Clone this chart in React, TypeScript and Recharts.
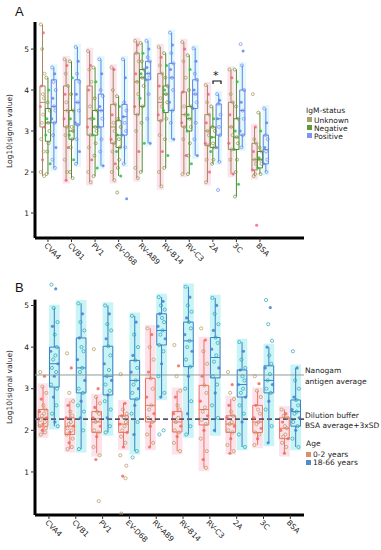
import React from "react";
import { ComposedChart, XAxis, YAxis, Scatter, ReferenceArea, ReferenceLine } from "recharts";

const categories = ["CVA4", "CVB1", "PV1", "EV-D68", "RV-A89", "RV-B14", "RV-C3", "2A", "3C", "BSA"];

// panel A boxes: [min, q1, median, q3, max]
const boxUnknown = [
  [1.9, 3.1, 3.7, 4.1, 5.6], [1.8, 3.1, 3.5, 4.1, 4.75], [1.75, 2.9, 3.3, 4.1, 4.95], [1.8, 2.7, 3.1, 3.65, 4.55],
  [1.85, 3.4, 4.2, 4.9, 5.2], [1.65, 3.25, 3.7, 4.4, 5.05], [1.95, 3.1, 3.4, 3.95, 5.17], [1.75, 2.65, 3.0, 3.4, 4.12],
  [1.95, 2.55, 3.1, 3.7, 4.5], [1.9, 2.05, 2.3, 2.7, 3.1],
];
const boxNegative = [
  [1.95, 2.75, 3.2, 3.55, 4.3], [1.85, 2.8, 3.0, 3.5, 4.7], [1.9, 2.9, 3.1, 3.5, 4.55], [1.9, 2.6, 2.9, 3.25, 3.85],
  [2.0, 3.6, 4.3, 4.5, 5.15], [2.1, 3.45, 3.9, 4.1, 4.9], [1.95, 3.0, 3.3, 3.6, 4.85], [2.2, 2.6, 2.85, 3.1, 3.6],
  [1.4, 2.55, 2.85, 3.3, 4.5], [1.95, 2.1, 2.3, 2.5, 3.45],
];
const boxPositive = [
  [2.1, 3.2, 3.6, 4.25, 4.55], [2.2, 3.15, 3.7, 4.25, 5.05], [2.15, 3.1, 3.5, 3.9, 4.75], [2.2, 2.9, 3.35, 3.65, 4.75],
  [2.7, 4.25, 4.4, 4.7, 5.2], [2.8, 3.5, 4.3, 4.65, 5.4], [2.4, 3.55, 3.9, 4.25, 5.02], [2.25, 2.9, 3.3, 3.66, 3.9],
  [2.6, 2.9, 3.5, 4.0, 4.6], [2.0, 2.2, 2.55, 2.9, 3.55],
];

const ptsUnknown = [
  [5.6, 5.4, 5.0, 4.4, 4.1, 3.9, 3.8, 3.6, 3.4, 3.2, 3.1, 2.8, 2.5, 2.3, 2.0, 1.9],
  [4.75, 4.6, 4.4, 4.1, 3.9, 3.7, 3.5, 3.3, 3.1, 2.9, 2.6, 2.3, 2.0, 1.8],
  [4.95, 4.6, 4.5, 4.2, 4.0, 3.6, 3.3, 3.1, 2.9, 2.6, 2.3, 2.0, 1.75],
  [4.55, 4.5, 4.0, 3.65, 3.4, 3.2, 3.0, 2.8, 2.7, 2.5, 2.2, 2.0, 1.8],
  [5.2, 5.1, 4.9, 4.7, 4.4, 4.2, 3.9, 3.6, 3.4, 3.0, 2.5, 2.1, 1.85],
  [5.05, 4.8, 4.6, 4.4, 4.1, 3.8, 3.6, 3.4, 3.25, 2.9, 2.5, 2.0, 1.65],
  [5.17, 5.0, 4.7, 4.3, 3.95, 3.6, 3.4, 3.2, 3.1, 2.8, 2.4, 1.95],
  [4.12, 3.9, 3.7, 3.4, 3.2, 3.0, 2.9, 2.7, 2.65, 2.3, 2.0, 1.75],
  [4.5, 4.3, 3.9, 3.7, 3.4, 3.1, 2.9, 2.7, 2.55, 2.3, 1.95],
  [3.9, 3.1, 2.8, 2.7, 2.5, 2.3, 2.2, 2.05, 1.95, 1.9, 0.7],
];
const ptsNegative = [
  [4.3, 4.0, 3.7, 3.5, 3.3, 3.2, 3.0, 2.9, 2.7, 2.5, 2.2, 1.95],
  [4.7, 4.3, 3.9, 3.5, 3.3, 3.1, 3.0, 2.9, 2.8, 2.6, 2.3, 2.0, 1.85],
  [4.55, 4.2, 3.8, 3.5, 3.3, 3.1, 3.0, 2.9, 2.7, 2.4, 2.1, 1.9],
  [3.85, 3.6, 3.3, 3.1, 2.9, 2.8, 2.6, 2.5, 2.3, 2.1, 1.9, 1.5],
  [5.15, 4.9, 4.7, 4.5, 4.4, 4.3, 4.1, 3.8, 3.6, 3.2, 2.7, 2.0],
  [4.9, 4.6, 4.3, 4.1, 4.0, 3.9, 3.7, 3.5, 3.3, 2.8, 2.4, 2.1],
  [4.85, 4.5, 4.0, 3.6, 3.4, 3.3, 3.1, 3.0, 2.7, 2.4, 2.2, 1.95],
  [3.6, 3.3, 3.1, 3.0, 2.85, 2.7, 2.6, 2.5, 2.3, 2.2],
  [4.5, 4.2, 3.6, 3.3, 3.0, 2.85, 2.7, 2.55, 2.3, 2.0, 1.7, 1.4],
  [3.45, 3.0, 2.6, 2.5, 2.35, 2.3, 2.2, 2.1, 1.95],
];
const ptsPositive = [
  [4.55, 4.4, 4.2, 4.0, 3.8, 3.6, 3.5, 3.3, 3.2, 2.9, 2.6, 2.3, 2.1],
  [5.05, 4.7, 4.4, 4.2, 3.9, 3.7, 3.5, 3.2, 3.15, 2.8, 2.5, 2.2],
  [4.75, 4.4, 4.0, 3.85, 3.6, 3.5, 3.3, 3.1, 2.8, 2.5, 2.15],
  [4.75, 4.3, 3.7, 3.5, 3.35, 3.2, 3.0, 2.9, 2.6, 2.2, 1.35],
  [5.2, 5.0, 4.8, 4.7, 4.55, 4.4, 4.3, 4.25, 3.9, 3.3, 2.7],
  [5.4, 5.1, 4.9, 4.65, 4.5, 4.3, 4.0, 3.7, 3.5, 3.2, 2.8],
  [5.02, 4.7, 4.4, 4.25, 4.0, 3.9, 3.7, 3.55, 3.2, 2.8, 2.4],
  [3.9, 3.75, 3.66, 3.4, 3.3, 3.1, 2.9, 2.6, 2.25, 1.56],
  [5.12, 4.95, 4.6, 4.0, 3.7, 3.5, 3.3, 3.0, 2.9, 2.6],
  [3.55, 3.2, 2.9, 2.8, 2.6, 2.5, 2.3, 2.2, 2.0],
];

// panel B boxes: [min, q1, median, q3, max]
const boxYoung = [
  [1.9, 2.1, 2.3, 2.5, 3.05], [1.55, 1.9, 2.1, 2.3, 2.7], [1.45, 1.95, 2.2, 2.45, 2.8], [1.6, 1.95, 2.15, 2.35, 2.65],
  [1.6, 2.2, 2.6, 3.25, 4.45], [1.5, 1.96, 2.2, 2.45, 2.95], [1.1, 2.13, 2.5, 3.08, 4.17], [1.5, 1.95, 2.15, 2.35, 2.75],
  [1.65, 1.95, 2.2, 2.6, 2.95], [1.45, 1.8, 2.05, 2.3, 2.5],
];
const boxAdult = [
  [2.1, 3.04, 3.6, 4.0, 4.94], [1.55, 2.9, 3.5, 4.22, 5.05], [1.95, 2.85, 3.3, 4.02, 5.0], [1.5, 2.75, 3.2, 3.68, 4.75],
  [2.8, 4.05, 4.4, 4.8, 5.2], [1.9, 3.53, 4.15, 4.6, 5.45], [1.95, 3.26, 3.75, 4.23, 5.18], [1.6, 2.8, 3.1, 3.45, 4.12],
  [1.7, 2.9, 3.2, 3.55, 4.0], [1.6, 2.1, 2.45, 2.73, 3.5],
];

const ptsYoung = [
  [3.4, 3.3, 3.05, 2.9, 2.75, 2.6, 2.5, 2.45, 2.4, 2.35, 2.3, 2.25, 2.2, 2.15, 2.1, 2.05, 2.0, 1.95, 1.9],
  [3.85, 3.5, 2.9, 2.7, 2.6, 2.45, 2.35, 2.3, 2.2, 2.15, 2.1, 2.05, 2.0, 1.95, 1.9, 1.8, 1.7, 1.6, 1.55],
  [3.95, 3.0, 2.8, 2.65, 2.55, 2.45, 2.4, 2.3, 2.25, 2.2, 2.1, 2.0, 1.95, 1.85, 1.6, 1.4, 1.3, 0.3],
  [3.35, 2.65, 2.5, 2.4, 2.35, 2.3, 2.2, 2.15, 2.1, 2.0, 1.95, 1.85, 1.7, 1.6, 1.4, 1.15, 0.9, 0.85, 0.0],
  [4.45, 4.3, 4.0, 3.7, 3.4, 3.25, 3.0, 2.8, 2.6, 2.5, 2.4, 2.3, 2.2, 2.1, 1.9, 1.7, 1.6],
  [4.05, 3.55, 3.3, 2.95, 2.8, 2.6, 2.5, 2.4, 2.3, 2.2, 2.1, 2.0, 1.95, 1.85, 1.7, 1.5],
  [4.45, 4.17, 3.9, 3.6, 3.3, 3.08, 2.9, 2.7, 2.55, 2.45, 2.35, 2.25, 2.15, 2.0, 1.8, 1.5, 1.3, 1.1],
  [3.4, 3.1, 2.9, 2.75, 2.6, 2.45, 2.35, 2.3, 2.2, 2.15, 2.1, 2.0, 1.95, 1.8, 1.65, 1.5, 1.45],
  [3.3, 3.12, 2.95, 2.8, 2.6, 2.5, 2.4, 2.3, 2.2, 2.15, 2.05, 1.95, 1.9, 1.8, 1.65],
  [2.5, 2.4, 2.35, 2.3, 2.2, 2.1, 2.05, 2.0, 1.9, 1.85, 1.8, 1.7, 1.6, 1.45],
];
const ptsAdult = [
  [5.5, 5.4, 4.94, 4.6, 4.5, 4.3, 4.0, 3.9, 3.8, 3.7, 3.6, 3.5, 3.4, 3.3, 3.1, 3.0, 2.8, 2.6, 2.4, 2.2, 2.1],
  [5.05, 4.8, 4.6, 4.4, 4.22, 4.0, 3.9, 3.7, 3.5, 3.4, 3.2, 3.0, 2.9, 2.7, 2.6, 2.45, 2.3, 2.0, 1.55],
  [5.0, 4.8, 4.55, 4.4, 4.2, 4.02, 3.8, 3.6, 3.45, 3.3, 3.2, 3.1, 2.95, 2.85, 2.7, 2.5, 2.3, 2.1, 1.95],
  [4.75, 4.6, 4.3, 4.0, 3.8, 3.68, 3.5, 3.4, 3.2, 3.1, 3.0, 2.9, 2.75, 2.6, 2.4, 2.2, 1.9, 1.5, 1.35],
  [5.2, 5.1, 5.0, 4.9, 4.8, 4.7, 4.6, 4.5, 4.4, 4.3, 4.2, 4.05, 3.9, 3.6, 3.3, 2.9, 2.8, 2.0, 1.9],
  [5.45, 5.2, 5.0, 4.85, 4.7, 4.6, 4.45, 4.3, 4.15, 4.0, 3.9, 3.7, 3.53, 3.3, 3.0, 2.7, 2.4, 2.1, 1.9],
  [5.18, 5.0, 4.8, 4.55, 4.4, 4.23, 4.1, 3.95, 3.8, 3.65, 3.5, 3.3, 3.1, 2.9, 2.6, 2.3, 2.0],
  [4.12, 3.9, 3.7, 3.5, 3.45, 3.3, 3.2, 3.1, 3.0, 2.9, 2.8, 2.6, 2.4, 2.2, 1.9, 1.6],
  [5.13, 4.95, 4.55, 4.15, 4.0, 3.8, 3.6, 3.5, 3.35, 3.2, 3.1, 3.0, 2.9, 2.7, 2.5, 2.1, 1.7],
  [3.9, 3.5, 3.2, 3.0, 2.8, 2.73, 2.6, 2.5, 2.45, 2.4, 2.3, 2.2, 2.1, 2.0, 1.8, 1.6],
];

const nanogamAvg = 3.33;
const bufferCutoff = 2.27;

const jitter = [-0.7, 0.35, -0.15, 0.8, -0.45, 0.1, 0.6, -0.9, 0.25, -0.3, 0.9, -0.6, 0.45, 0, -0.8, 0.7, -0.2, 0.5, -0.55, 0.15, 0.85];

const FONT = "DejaVu Sans, Verdana, sans-serif";
const A_DOMAIN_X: [number, number] = [-0.55, 10.87];
const A_DOMAIN_Y: [number, number] = [0.39, 5.66];
const B_DOMAIN_X: [number, number] = [-0.52, 9.51];
const B_DOMAIN_Y: [number, number] = [-0.034, 5.66];

type Pt = { x: number; y: number; k: number };

function toPoints(vals: number[][], offset: number, spread: number): Pt[] {
  const out: Pt[] = [];
  vals.forEach((list, i) =>
    list.forEach((v, j) => out.push({ x: i + offset + jitter[j % jitter.length] * spread, y: v, k: j % 3 }))
  );
  return out;
}

// light band behind each group, over its whisker range
function shading(data: number[][], offset: number, half: number, fill: string, key: string) {
  return data.map((b, i) => (
    <ReferenceArea
      key={`${key}${i}`}
      x1={i + offset - half}
      x2={i + offset + half}
      y1={b[0] - 0.08}
      y2={b[4] + 0.08}
      fill={fill}
      fillOpacity={1}
      stroke="none"
    />
  ));
}

function boxes(data: number[][], offset: number, half: number, stroke: string, key: string) {
  const out: React.ReactNode[] = [];
  data.forEach(([mn, q1, md, q3, mx], i) => {
    const c = i + offset;
    out.push(
      <ReferenceLine key={`${key}wl${i}`} segment={[{ x: c, y: mn }, { x: c, y: q1 }]} stroke={stroke} strokeWidth={1} />,
      <ReferenceLine key={`${key}wh${i}`} segment={[{ x: c, y: q3 }, { x: c, y: mx }]} stroke={stroke} strokeWidth={1} />,
      <ReferenceArea key={`${key}b${i}`} x1={c - half} x2={c + half} y1={q1} y2={q3} fill="none" stroke={stroke} strokeWidth={1} />,
      <ReferenceLine key={`${key}m${i}`} segment={[{ x: c - half, y: md }, { x: c + half, y: md }]} stroke={stroke} strokeWidth={1} />
    );
  });
  return out;
}

const dot = (filled: string, open: string, r: number) => (props: any) => {
  const { cx, cy, payload } = props;
  if (cx == null || cy == null) return <g />;
  if (payload.k === 1) return <circle cx={cx} cy={cy} r={r} fill={filled} fillOpacity={0.85} stroke="none" />;
  return <circle cx={cx} cy={cy} r={r} fill="none" stroke={open} strokeWidth={0.7} />;
};

const catTick = (props: any) => {
  const { x, y, payload } = props;
  return (
    <g transform={`translate(${x - 2},${y + 1})`}>
      <text transform="rotate(45)" x={0} y={0} dy={3} fontSize={7.5} fill="#222" fontFamily={FONT}>
        {categories[payload.value]}
      </text>
    </g>
  );
};

const yTickStyle = { fontSize: 7.5, fill: "#222", fontFamily: FONT };
const catIdx = categories.map((_, i) => i);

function PanelA() {
  const offU = -0.23, offN = 0, offP = 0.25;
  return (
    <ComposedChart width={381} height={272} margin={{ top: 22, right: 77, left: 25, bottom: 0 }}>
      <XAxis
        type="number"
        dataKey="x"
        domain={A_DOMAIN_X}
        allowDataOverflow
        ticks={catIdx}
        interval={0}
        tick={catTick}
        tickSize={4}
        tickMargin={1}
        height={34}
        axisLine={{ stroke: "#000", strokeWidth: 3 }}
        tickLine={{ stroke: "#333" }}
      />
      <YAxis
        type="number"
        dataKey="y"
        domain={A_DOMAIN_Y}
        allowDataOverflow
        ticks={[1, 2, 3, 4, 5]}
        width={10}
        tickSize={4}
        tickMargin={2}
        tick={yTickStyle}
        axisLine={{ stroke: "#000", strokeWidth: 3 }}
        tickLine={{ stroke: "#333" }}
      />
      {shading(boxUnknown, offU, 0.15, "#fce4ec", "su")}
      {shading(boxPositive, offP, 0.15, "#e2f8fb", "sp")}
      <Scatter data={toPoints(ptsUnknown, offU, 0.1)} dataKey="y" isAnimationActive={false} shape={dot("#f2647c", "#a99860", 1.5)} />
      <Scatter data={toPoints(ptsNegative, offN, 0.1)} dataKey="y" isAnimationActive={false} shape={dot("#26c24a", "#7d8e3e", 1.5)} />
      <Scatter data={toPoints(ptsPositive, offP, 0.1)} dataKey="y" isAnimationActive={false} shape={dot("#5f86ee", "#6f8cf0", 1.5)} />
      {boxes(boxUnknown, offU, 0.11, "#a5875e", "bu")}
      {boxes(boxNegative, offN, 0.11, "#4e8a2c", "bn")}
      {boxes(boxPositive, offP, 0.11, "#6384e8", "bp")}
    </ComposedChart>
  );
}

function PanelB() {
  const offY = -0.22, offA = 0.2;
  return (
    <ComposedChart width={381} height={280} margin={{ top: 8, right: 77, left: 25, bottom: 0 }}>
      <XAxis
        type="number"
        dataKey="x"
        domain={B_DOMAIN_X}
        allowDataOverflow
        ticks={catIdx}
        interval={0}
        tick={catTick}
        tickSize={4}
        tickMargin={1}
        height={35}
        axisLine={{ stroke: "#000", strokeWidth: 3 }}
        tickLine={{ stroke: "#333" }}
      />
      <YAxis
        type="number"
        dataKey="y"
        domain={B_DOMAIN_Y}
        allowDataOverflow
        ticks={[1, 2, 3, 4, 5]}
        width={10}
        tickSize={4}
        tickMargin={2}
        tick={yTickStyle}
        axisLine={false}
        tickLine={{ stroke: "#333" }}
      />
      <ReferenceLine
        segment={[{ x: B_DOMAIN_X[0], y: B_DOMAIN_Y[0] }, { x: B_DOMAIN_X[0], y: 5.14 }]}
        stroke="#000"
        strokeWidth={3}
      />
      {shading(boxYoung, offY, 0.2, "#fde2eb", "sy")}
      {shading(boxAdult, offA, 0.2, "#c9f4f6", "sa")}
      <ReferenceLine y={nanogamAvg} stroke="#8d9c9c" strokeWidth={1} />
      <ReferenceLine y={bufferCutoff} stroke="#5e5366" strokeWidth={1.6} strokeDasharray="5 3" />
      <Scatter data={toPoints(ptsYoung, offY, 0.15)} dataKey="y" isAnimationActive={false} shape={dot("#f2695a", "#b89359", 1.6)} />
      <Scatter data={toPoints(ptsAdult, offA, 0.15)} dataKey="y" isAnimationActive={false} shape={dot("#3f82d0", "#22a3ba", 1.6)} />
      {boxes(boxYoung, offY, 0.18, "#ef7262", "by")}
      {boxes(boxAdult, offA, 0.18, "#3d7ec4", "ba")}
    </ComposedChart>
  );
}

function Overlay() {
  const t = { fontFamily: FONT, fontSize: 7.5, fill: "#222" };
  return (
    <svg width={381} height={550} style={{ position: "absolute", left: 0, top: 0, pointerEvents: "none" }}>
      <text x={15} y={16} fontSize={13} fontFamily="Liberation Sans, Arial, sans-serif" fill="#111">A</text>
      <text x={15} y={292} fontSize={13} fontFamily="Liberation Sans, Arial, sans-serif" fill="#111">B</text>
      <text {...t} transform="translate(12,131) rotate(-90)" textAnchor="middle">Log10(signal value)</text>
      <text {...t} transform="translate(12,387) rotate(-90)" textAnchor="middle">Log10(signal value)</text>
      <text x={213} y={79} fontSize={11} fontFamily={FONT} fill="#111">*</text>
      <path d="M213,84 L213,81 L221,81 L221,84" fill="none" stroke="#111" strokeWidth={1.2} />
      <text {...t} x={306} y={113}>IgM-status</text>
      <rect x={307} y={117} width={5} height={5} fill="#a7a06e" />
      <text {...t} x={314} y={123}>Unknown</text>
      <rect x={307} y={125} width={5} height={5} fill="#5b9a34" />
      <text {...t} x={314} y={131}>Negative</text>
      <rect x={307} y={133} width={5} height={5} fill="#7d95ec" />
      <text {...t} x={314} y={139}>Positive</text>
      <text {...t} x={305} y={373}>Nanogam</text>
      <text {...t} x={305} y={384}>antigen average</text>
      <text {...t} x={305} y={418}>Dilution buffer</text>
      <text {...t} x={305} y={428}>BSA average+3xSD</text>
      <text {...t} x={306} y={446}>Age</text>
      <rect x={306} y={452} width={5} height={5} fill="#d9916c" />
      <text {...t} x={313} y={457}>0-2 years</text>
      <rect x={306} y={460} width={5} height={5} fill="#4f8bcc" />
      <text {...t} x={313} y={465}>18-66 years</text>
    </svg>
  );
}

export default function App() {
  return (
    <div style={{ position: "absolute", left: 0, top: 0, width: 381, height: 550, background: "#fff", overflow: "hidden" }}>
      <div style={{ position: "absolute", left: 0, top: 0 }}>
        <PanelA />
      </div>
      <div style={{ position: "absolute", left: 0, top: 270 }}>
        <PanelB />
      </div>
      <Overlay />
    </div>
  );
}
